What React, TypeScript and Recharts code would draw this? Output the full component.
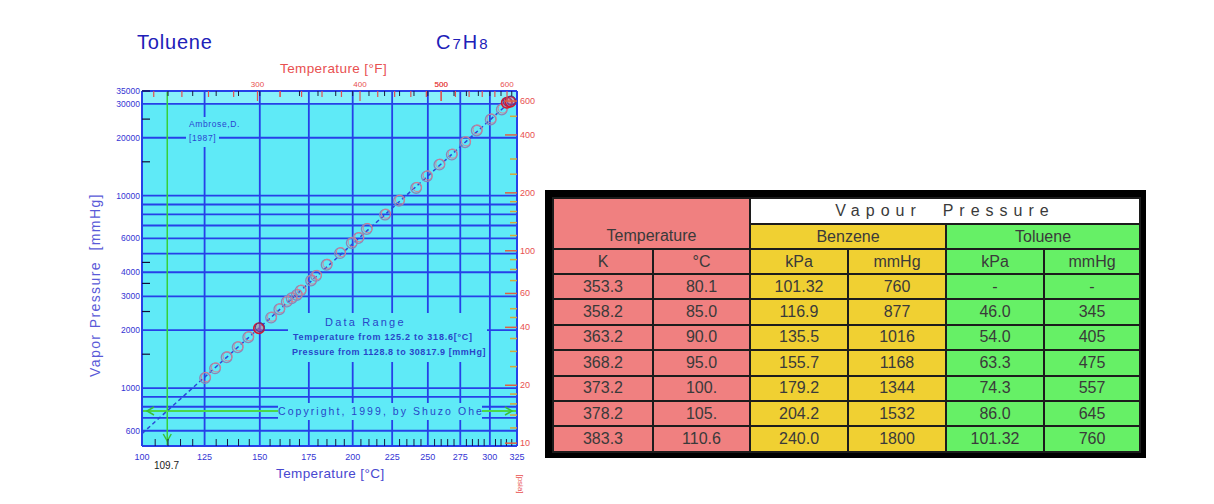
import React from 'react'
import {
  ComposedChart,
  Scatter,
  Line,
  XAxis,
  YAxis,
  ReferenceLine,
  ReferenceArea,
  CartesianGrid,
} from 'recharts'

const tempC = [125.2, 129.5, 134.6, 139.6, 144.5, 149.6, 155.5, 159.6, 163.4, 165.9, 168.6, 170.6, 176.2, 178.9, 184.8, 192.5, 199.4, 203.4, 208.6, 220.3, 229.6, 241.5, 249.2, 258.6, 268.2, 278.9, 288.6, 300.7, 310.7, 315.3, 318.6]
const pressMmHg = [1128.8, 1266, 1445, 1630, 1837, 2046, 2324, 2570, 2813, 2931, 3048, 3211, 3622, 3830, 4372, 5030, 5673, 6022, 6711, 7967, 9417, 10970, 12605, 14494, 16350, 18950, 21800, 24880, 28050, 30400, 30817.9]
const redTempC = [149.6, 315.3, 318.6]

// dashed fit line ends
const fitTempC = [100, 320]
const fitPressMmHg = [580, 31300]

const boilC = 109.7
const atmMmHg = 760

// axes
const cMajor = [100, 125, 150, 175, 200, 225, 250, 275, 300, 325]
const cMinor = [105, 110, 115, 120, 130, 135, 140, 145, 155, 160, 165, 170, 180, 185, 190, 195, 205, 210, 215, 220, 230, 235, 240, 245, 255, 260, 265, 270, 280, 285, 290, 295, 305, 310, 315, 320]
const cGrid = [125, 150, 175, 200, 225, 250, 275, 300]
const fTicks = [220, 240, 260, 280, 300, 320, 340, 360, 380, 400, 420, 440, 460, 480, 500, 520, 540, 560, 580, 600]
const fLabels = [300, 400, 500, 600]
const cTopTicks = [110, 120, 130, 140, 150, 160, 170, 180, 190, 200, 210, 220, 230, 240, 250, 260, 270, 280, 290, 300, 310, 320]
const mmLabels = [35000, 30000, 20000, 10000, 6000, 4000, 3000, 2000, 1000, 600]
const mmMinor = [25000, 15000, 4500, 3500, 2500, 1500]
const mmGrid = [30000, 20000, 10000, 9000, 8000, 7000, 6000, 5000, 4000, 3000, 2000, 1000, 900, 800, 700, 600]
const psiLabels = [600, 400, 200, 100, 60, 40, 20, 10]
const psiMinor = [500, 300, 250, 180, 160, 140, 120, 90, 80, 70, 50, 45, 35, 30, 25, 18, 16, 14, 12]
const MMHG_PER_PSI = 51.715

// table
const tableK = ['353.3', '358.2', '363.2', '368.2', '373.2', '378.2', '383.3']
const tableC = ['80.1', '85.0', '90.0', '95.0', '100.', '105.', '110.6']
const benzKPa = ['101.32', '116.9', '135.5', '155.7', '179.2', '204.2', '240.0']
const benzMmHg = ['760', '877', '1016', '1168', '1344', '1532', '1800']
const tolKPa = ['-', '46.0', '54.0', '63.3', '74.3', '86.0', '101.32']
const tolMmHg = ['-', '345', '405', '475', '557', '645', '760']

const FONT = '"Liberation Sans", Arial, sans-serif'
const BLUE = '#2640e8'
const PLOT_BG = '#5feaf7'
const LABEL_BLUE = '#3434d4'
const RED = '#e85050'

// x axis runs on -1000/T (Cox chart)
const toU = (c: number) => -1000 / (c + 273.15)
const cOf = (u: number) => -1000 / u - 273.15
const fToC = (f: number) => ((f - 32) * 5) / 9

const points = tempC.map((t, i) => ({ u: toU(t), p: pressMmHg[i], red: redTempC.includes(t) }))
const fitData = fitTempC.map((t, i) => ({ u: toU(t), p: fitPressMmHg[i] }))
const uDomain = [toU(100), toU(325)]

const topF = new Map<number, number>()
fTicks.forEach((f) => topF.set(toU(fToC(f)), f))
const topTicks = [...fTicks.map((f) => toU(fToC(f))), ...cTopTicks.map(toU)]

function BottomTick(props: any) {
  const { x, y, payload } = props
  const c = Math.round(cOf(payload.value))
  const major = cMajor.includes(c)
  return (
    <g>
      {!major && <line x1={x} x2={x} y1={y} y2={y - 7} stroke="#16164a" strokeWidth={1} />}
      {major && (
        <text x={x} y={y + 14} textAnchor="middle" fontSize={9} fill={LABEL_BLUE} fontFamily={FONT}>
          {c}
        </text>
      )}
    </g>
  )
}

function TopTick(props: any) {
  const { x, y, payload } = props
  const f = topF.get(payload.value)
  if (f === undefined) {
    return <line x1={x} x2={x} y1={y} y2={y + 5} stroke="#1a1a40" strokeWidth={1} />
  }
  const lab = fLabels.includes(f)
  return (
    <g>
      <line x1={x} x2={x} y1={y} y2={y + (f % 100 === 0 ? 10 : 6)} stroke="#e05050" strokeWidth={1.2} />
      {lab && (
        <text x={x} y={y - 4} textAnchor="middle" fontSize={8} fill={RED} fontFamily={FONT}>
          {f}
        </text>
      )}
    </g>
  )
}

function LeftTick(props: any) {
  const { x, y, payload } = props
  const v = payload.value
  return (
    <g>
      {!mmGrid.includes(v) && <line x1={x} x2={x + 8} y1={y} y2={y} stroke="#10103a" strokeWidth={1.2} />}
      {mmLabels.includes(v) && (
        <text x={x - 2} y={y + 3} textAnchor="end" fontSize={8.5} fill={LABEL_BLUE} fontFamily={FONT}>
          {v}
        </text>
      )}
    </g>
  )
}

function RightTick(props: any) {
  const { x, y, payload } = props
  const v = payload.value
  const major = psiLabels.includes(v)
  return (
    <g>
      <line
        x1={x}
        x2={x - (major ? 12 : 7)}
        y1={y}
        y2={y}
        stroke={major ? '#e06040' : '#d8a838'}
        strokeWidth={1.5}
      />
      {major && (
        <text x={x + 3} y={y + 3} fontSize={9} fill={RED} fontFamily={FONT}>
          {v}
        </text>
      )}
    </g>
  )
}

function Marker(props: any) {
  const { cx, cy, payload } = props
  if (payload.red) {
    return (
      <g>
        <circle cx={cx} cy={cy} r={5.2} fill="#f06878" fillOpacity={0.45} stroke="#d01830" strokeWidth={1.6} />
        <circle cx={cx + 1} cy={cy - 1} r={4.5} fill="none" stroke="#4a3a90" strokeWidth={1} />
      </g>
    )
  }
  return (
    <g>
      <circle cx={cx} cy={cy} r={5.3} fill="none" stroke="#8a86b8" strokeWidth={1.3} />
      <circle cx={cx + 1} cy={cy - 1} r={4.6} fill="none" stroke="#e07a8a" strokeWidth={0.9} />
    </g>
  )
}

function GreenV(props: any) {
  const { x1, y1, x2, y2 } = props
  const yb = Math.max(y1, y2)
  return (
    <g>
      <line x1={x1} y1={y1} x2={x2} y2={y2} stroke="#38d038" strokeWidth={1.5} />
      <polyline points={`${x1 - 4},${yb - 12} ${x1},${yb - 5} ${x1 + 4},${yb - 12}`} fill="none" stroke="#38c038" strokeWidth={1.5} />
    </g>
  )
}

function GreenH(props: any) {
  const { x1, y1, x2, y2 } = props
  const xl = Math.min(x1, x2)
  const xr = Math.max(x1, x2)
  return (
    <g>
      <line x1={x1} y1={y1} x2={x2} y2={y2} stroke="#4ad84a" strokeWidth={2} />
      <polyline points={`${xl + 12},${y1 - 4} ${xl + 5},${y1} ${xl + 12},${y1 + 4}`} fill="none" stroke="#38c038" strokeWidth={1.5} />
      <polyline points={`${xr - 12},${y1 - 4} ${xr - 5},${y1} ${xr - 12},${y1 + 4}`} fill="none" stroke="#38c038" strokeWidth={1.5} />
    </g>
  )
}

const abs = (left: number, top: number, extra: React.CSSProperties = {}): React.CSSProperties => ({
  position: 'absolute',
  left,
  top,
  fontFamily: FONT,
  whiteSpace: 'nowrap',
  lineHeight: 1,
  ...extra,
})

const cell = (bg: string): React.CSSProperties => ({
  background: bg,
  border: '2px solid #1c1c1c',
  textAlign: 'center',
  padding: 0,
})

const PINK = '#f08080'
const YELLOW = '#f0d032'
const GREEN = '#66f066'

export default function App() {
  return (
    <div style={{ position: 'absolute', left: 0, top: 0, width: 1214, height: 504, background: '#fff' }}>
      <div style={{ position: 'absolute', left: 0, top: 0 }}>
        <ComposedChart width={545} height={504} margin={{ top: 71, right: 0, bottom: 38, left: 82 }}>
          <CartesianGrid xAxisId="c" yAxisId="mm" horizontal={false} vertical={false} fill={PLOT_BG} fillOpacity={1} stroke="none" />
          <XAxis
            xAxisId="c"
            dataKey="u"
            type="number"
            domain={uDomain}
            allowDataOverflow
            ticks={[...cMajor, ...cMinor].map(toU)}
            interval={0}
            height={20}
            tickSize={0}
            tickMargin={0}
            tickLine={false}
            tick={BottomTick}
            axisLine={{ stroke: BLUE, strokeWidth: 2 }}
          />
          <XAxis
            xAxisId="f"
            dataKey="u"
            type="number"
            orientation="top"
            domain={uDomain}
            allowDataOverflow
            ticks={topTicks}
            interval={0}
            height={20}
            tickSize={0}
            tickMargin={0}
            tickLine={false}
            tick={TopTick}
            axisLine={{ stroke: BLUE, strokeWidth: 2 }}
          />
          <YAxis
            yAxisId="mm"
            type="number"
            scale="log"
            domain={[500, 35000]}
            allowDataOverflow
            ticks={[...mmLabels, ...mmMinor]}
            interval={0}
            width={60}
            tickSize={0}
            tickMargin={0}
            tickLine={false}
            tick={LeftTick}
            axisLine={{ stroke: BLUE, strokeWidth: 2 }}
          />
          <YAxis
            yAxisId="psi"
            orientation="right"
            type="number"
            scale="log"
            domain={[500 / MMHG_PER_PSI, 35000 / MMHG_PER_PSI]}
            allowDataOverflow
            ticks={[...psiLabels, ...psiMinor]}
            interval={0}
            width={28}
            tickSize={0}
            tickMargin={0}
            tickLine={false}
            tick={RightTick}
            axisLine={{ stroke: BLUE, strokeWidth: 2 }}
          />
          <ReferenceArea xAxisId="c" yAxisId="mm" x1={uDomain[0]} x2={uDomain[1]} y1={30000} y2={35000} fill="#d8fbff" fillOpacity={0.35} stroke="none" />
          {mmGrid.map((v) => (
            <ReferenceLine key={'h' + v} xAxisId="c" yAxisId="mm" y={v} stroke={BLUE} strokeWidth={1.8} />
          ))}
          {cGrid.map((c) => (
            <ReferenceLine key={'v' + c} xAxisId="c" yAxisId="mm" x={toU(c)} stroke={BLUE} strokeWidth={1.8} />
          ))}
          <ReferenceLine xAxisId="c" yAxisId="mm" x={toU(boilC)} shape={GreenV} />
          <ReferenceLine xAxisId="c" yAxisId="mm" y={atmMmHg} shape={GreenH} />
          <Line
            xAxisId="c"
            yAxisId="mm"
            data={fitData}
            dataKey="p"
            stroke="#2a48d8"
            strokeWidth={1.5}
            strokeDasharray="4 3"
            dot={false}
            isAnimationActive={false}
          />
          <Scatter xAxisId="c" yAxisId="mm" data={points} dataKey="p" shape={Marker} isAnimationActive={false} />
        </ComposedChart>
      </div>

      {/* titles */}
      <div style={abs(137, 32, { fontSize: 20, color: '#2020b8', letterSpacing: 0.8 })}>Toluene</div>
      <div style={abs(436, 32, { fontSize: 20, color: '#2020b8', letterSpacing: 2 })}>
        C<span style={{ fontSize: 15 }}>7</span>H<span style={{ fontSize: 15 }}>8</span>
      </div>
      <div style={abs(280, 62, { fontSize: 13.5, color: RED, letterSpacing: 0.4 })}>Temperature [°F]</div>
      <div style={abs(276, 467, { fontSize: 13.5, color: '#4848d0', letterSpacing: 0.4 })}>Temperature [°C]</div>
      <div
        style={abs(95, 285, {
          fontSize: 14,
          color: '#5a5ad8',
          letterSpacing: 1.4,
          transform: 'translate(-50%, -50%) rotate(-90deg)',
        })}
      >
        Vapor Pressure&nbsp;&nbsp;[mmHg]
      </div>
      <div style={abs(154, 461, { fontSize: 10, color: '#222' })}>109.7</div>
      <div
        style={abs(520, 484, {
          fontSize: 8,
          color: RED,
          transform: 'translate(-50%, -50%) rotate(90deg)',
        })}
      >
        [psia]
      </div>

      {/* boxes inside plot */}
      <div style={abs(186, 117, { width: 57, height: 14, background: PLOT_BG, fontSize: 8.5, color: '#2a44d0', paddingTop: 3, paddingLeft: 3, boxSizing: 'border-box', letterSpacing: 0.6 })}>
        Ambrose,D.
      </div>
      <div style={abs(186, 131, { width: 33, height: 16, background: PLOT_BG, fontSize: 8.5, color: '#2a44d0', paddingTop: 3, paddingLeft: 3, boxSizing: 'border-box', letterSpacing: 0.6 })}>
        [1987]
      </div>
      <div
        style={abs(288, 313, {
          width: 199,
          height: 49,
          background: PLOT_BG,
          color: '#2846c8',
        })}
      >
        <div style={{ fontSize: 11, letterSpacing: 2.2, marginTop: 4, marginLeft: 37 }}>Data Range</div>
        <div style={{ fontSize: 9, letterSpacing: 0.75, marginTop: 5, marginLeft: 5, fontWeight: 'bold' }}>Temperature from 125.2 to 318.6[°C]</div>
        <div style={{ fontSize: 9, letterSpacing: 0.55, marginTop: 6, marginLeft: 4, fontWeight: 'bold' }}>Pressure from 1128.8 to 30817.9 [mmHg]</div>
      </div>
      <div
        style={abs(278, 403, {
          width: 204,
          height: 17,
          background: PLOT_BG,
          color: '#2846c8',
          fontSize: 10.5,
          letterSpacing: 2.05,
          textAlign: 'center',
          paddingTop: 3,
          boxSizing: 'border-box',
        })}
      >
        Copyright, 1999, by Shuzo Ohe
      </div>

      {/* table */}
      <div
        style={{
          position: 'absolute',
          left: 545,
          top: 190,
          width: 601,
          height: 268,
          background: '#000',
          padding: '7px 7px 7px 7px',
          boxSizing: 'border-box',
        }}
      >
        <table
          style={{
            borderCollapse: 'collapse',
            tableLayout: 'fixed',
            width: 587,
            height: 254,
            fontFamily: FONT,
            fontSize: 16,
            color: '#3a3a3a',
          }}
        >
          <colgroup>
            <col style={{ width: 100 }} />
            <col style={{ width: 97 }} />
            <col style={{ width: 98 }} />
            <col style={{ width: 98 }} />
            <col style={{ width: 98 }} />
            <col style={{ width: 96 }} />
          </colgroup>
          <tbody>
            <tr style={{ height: 26 }}>
              <td colSpan={2} rowSpan={2} style={{ ...cell(PINK), verticalAlign: 'bottom', paddingBottom: 3 }}>
                Temperature
              </td>
              <td colSpan={4} style={{ ...cell('#fff'), letterSpacing: 6 }}>
                Vapour&nbsp;&nbsp;Pressure
              </td>
            </tr>
            <tr style={{ height: 25 }}>
              <td colSpan={2} style={cell(YELLOW)}>Benzene</td>
              <td colSpan={2} style={cell(GREEN)}>Toluene</td>
            </tr>
            <tr style={{ height: 25 }}>
              <td style={cell(PINK)}>K</td>
              <td style={cell(PINK)}>°C</td>
              <td style={cell(YELLOW)}>kPa</td>
              <td style={cell(YELLOW)}>mmHg</td>
              <td style={cell(GREEN)}>kPa</td>
              <td style={cell(GREEN)}>mmHg</td>
            </tr>
            {tableK.map((k, i) => (
              <tr key={k} style={{ height: 25.4 }}>
                <td style={cell(PINK)}>{k}</td>
                <td style={cell(PINK)}>{tableC[i]}</td>
                <td style={cell(YELLOW)}>{benzKPa[i]}</td>
                <td style={cell(YELLOW)}>{benzMmHg[i]}</td>
                <td style={cell(GREEN)}>{tolKPa[i]}</td>
                <td style={cell(GREEN)}>{tolMmHg[i]}</td>
              </tr>
            ))}
          </tbody>
        </table>
      </div>
    </div>
  )
}
